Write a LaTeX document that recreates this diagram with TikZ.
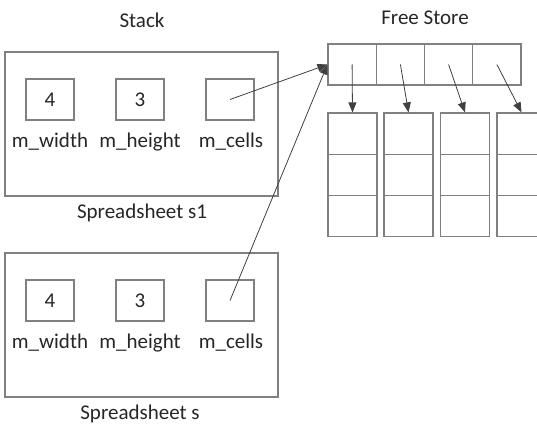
\documentclass[tikz,border=0pt]{standalone}
\usepackage{fontspec}
\setmainfont{Carlito}
\usepackage{tikz}
\usetikzlibrary{arrows.meta,positioning}

\begin{document}
\begin{tikzpicture}[
      x=1pt, y=-1pt,
      every node/.style={font=\fontsize{21}{25}\selectfont, text=black!85},
      framebox/.style={
        rectangle, draw=black!50, line width=1.1pt,
        minimum width=273pt, minimum height=144pt
      },
      fieldbox/.style={
        rectangle, draw=black!50, line width=1.1pt,
        minimum width=48pt, minimum height=41pt, inner sep=0pt
      },
      cellbox/.style={
        rectangle, draw=black!50, line width=1.1pt,
        minimum width=48.25pt, minimum height=41pt, inner sep=0pt
      },
      colbox/.style={
        rectangle, draw=black!50, line width=1.1pt,
        minimum width=49pt, minimum height=41.3pt, inner sep=0pt
      },
      ptr/.style={-{Triangle[length=10pt,width=8pt]}, draw=black!75, line width=0.8pt, shorten <=0pt}
    ]
    \useasboundingbox (0,0) rectangle (537,425);
    \clip (0,0) rectangle (537,425);

    % ===== Titles =====
    \node (stack) at (142, 20) {Stack};
    \node (free) at (425, 18) {Free Store};

    % ===== Spreadsheet s1 =====
    \node[framebox] (s1) at (141.5, 124) {};
    \node[fieldbox] (s1w) at (50, 99.5) {4};
    \node[fieldbox] (s1h) at (140, 99.5) {3};
    \node[fieldbox] (s1c) at (230, 99.5) {};
    \node (s1wl) at (50, 142) {m\_width};
    \node (s1hl) at (140, 142) {m\_height};
    \node (s1cl) at (231, 142) {m\_cells};
    \node (s1name) at (142, 213) {Spreadsheet s1};

    % ===== Spreadsheet s =====
    \node[framebox] (s) at (141.5, 325) {};
    \node[fieldbox] (sw) at (50, 300.5) {4};
    \node[fieldbox] (sh) at (140, 300.5) {3};
    \node[fieldbox] (sc) at (230, 300.5) {};
    \node (swl) at (50, 343) {m\_width};
    \node (shl) at (140, 343) {m\_height};
    \node (scl) at (231, 343) {m\_cells};
    \node (sname) at (140, 414) {Spreadsheet s};

    % ===== Free store: pointer array and the columns =====
    \foreach \i/\cx/\colx in {1/352.1/352.5, 2/400.4/408.5, 3/448.6/465, 4/496.9/521.5} {
      \node[cellbox] (c\i) at (\cx, 64.5) {};
      \node[colbox] (col\i a) at (\colx, 133.6) {};
      \node[colbox] (col\i b) at (\colx, 174.9) {};
      \node[colbox] (col\i c) at (\colx, 216.2) {};
    }

    % ===== Arrows =====
    \draw[ptr] (s1c.center) -- (c1.west);
    \draw[ptr] (sc.center) -- (c1.west);
    \foreach \i in {1,...,4} {
      \draw[ptr] (c\i.center) -- (col\i a.north);
    }
  \end{tikzpicture}
\end{document}
